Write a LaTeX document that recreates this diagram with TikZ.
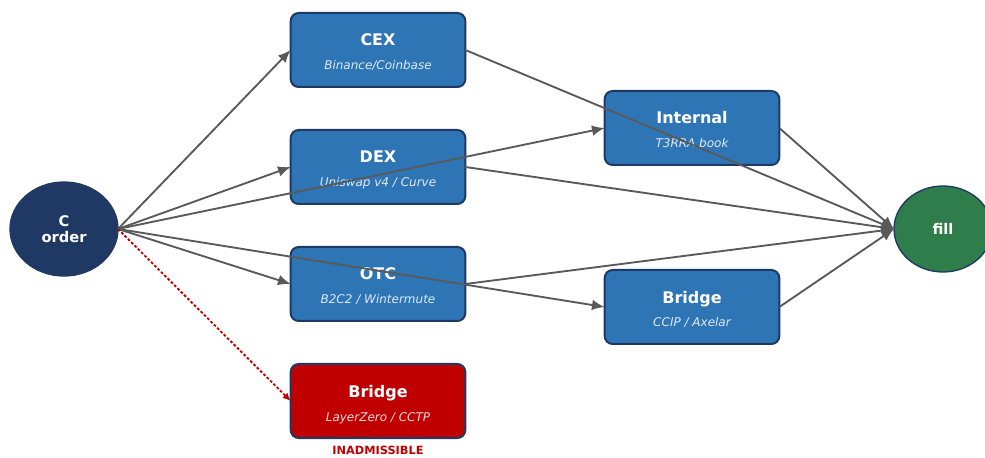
\documentclass[tikz,border=0pt]{standalone}
\usepackage{fontspec}
\setmainfont{DejaVu Sans}[ItalicFont={DejaVu Sans Oblique},BoldFont={DejaVu Sans Bold},BoldItalicFont={DejaVu Sans Bold Oblique}]
\usepackage{xcolor}
\usepackage{tikz}
\usetikzlibrary{shapes,arrows.meta,positioning}

\definecolor{venueblue}{RGB}{46,117,182}
\definecolor{navyline}{RGB}{31,56,100}
\definecolor{fillgreen}{RGB}{46,125,74}
\definecolor{badred}{RGB}{192,0,0}
\definecolor{edgegray}{RGB}{89,89,89}
\definecolor{subblue}{RGB}{222,233,245}
\definecolor{subred}{RGB}{246,218,218}

\newcommand{\subline}[2]{{\mdseries\itshape\fontsize{9}{11}\selectfont\color{#1}#2}}

\begin{document}
\begin{tikzpicture}[
    x=0.75pt, y=0.75pt,
    venuebox/.style={draw=navyline, fill=venueblue, line width=1.5pt, outer sep=0pt, rounded corners=6pt, minimum width=131pt, minimum height=55.5pt, text height=30pt, text depth=0pt, align=center, text=white, font=\bfseries\fontsize{12}{18}\selectfont},
    badbox/.style={venuebox, fill=badred},
    endnode/.style={ellipse, draw=navyline, line width=1pt, inner sep=0pt, outer sep=0pt, align=center, text=white, font=\bfseries\fontsize{11}{12.5}\selectfont},
    arrow/.style={-{Latex[length=9.5pt,width=8pt]}, line width=1.4pt, color=edgegray},
    badarrow/.style={-{Latex[length=6pt,width=5.5pt]}, line width=1.4pt, color=badred, dash pattern=on 2pt off 1.5pt}
]
    \useasboundingbox (0,0) rectangle (985,457);

    \node[endnode, fill=navyline, minimum width=81pt, minimum height=70.5pt] (order) at (64,228) {C\\order};

    \node[venuebox] (cex) at (378,407) {CEX\\\subline{subblue}{Binance/Coinbase}};
    \node[venuebox, below=32.25pt of cex] (dex) {DEX\\\subline{subblue}{Uniswap v4 / Curve}};
    \node[venuebox, below=32.25pt of dex] (otc) {OTC\\\subline{subblue}{B2C2 / Wintermute}};
    \node[badbox, below=32.25pt of otc] (bad) {Bridge\\\subline{subred}{LayerZero / CCTP}};
    \node[below=4.5pt of bad, inner sep=1.5pt, text=badred, font=\bfseries\fontsize{8.5}{10}\selectfont] (inadm) {INADMISSIBLE};

    \node[venuebox] (internal) at (692,329) {Internal\\\subline{subblue}{T3RRA book}};
    \node[venuebox, below=78.75pt of internal] (bridge) {Bridge\\\subline{subblue}{CCIP / Axelar}};

    \node[endnode, fill=fillgreen, minimum width=73.5pt, minimum height=64.5pt] (fill) at (943,228) {fill};

    % order routing
    \draw[arrow] (order.east) -- (cex.west);
    \draw[arrow] (order.east) -- (dex.west);
    \draw[arrow] (order.east) -- (otc.west);
    \draw[arrow] (order.east) -- (internal.west);
    \draw[arrow] (order.east) -- (bridge.west);
    \draw[badarrow] (order.east) -- (bad.west);

    % fills
    \draw[arrow] (cex.east) -- (fill.west);
    \draw[arrow] (dex.east) -- (fill.west);
    \draw[arrow] (otc.east) -- (fill.west);
    \draw[arrow] (internal.east) -- (fill.west);
    \draw[arrow] (bridge.east) -- (fill.west);
\end{tikzpicture}
\end{document}
